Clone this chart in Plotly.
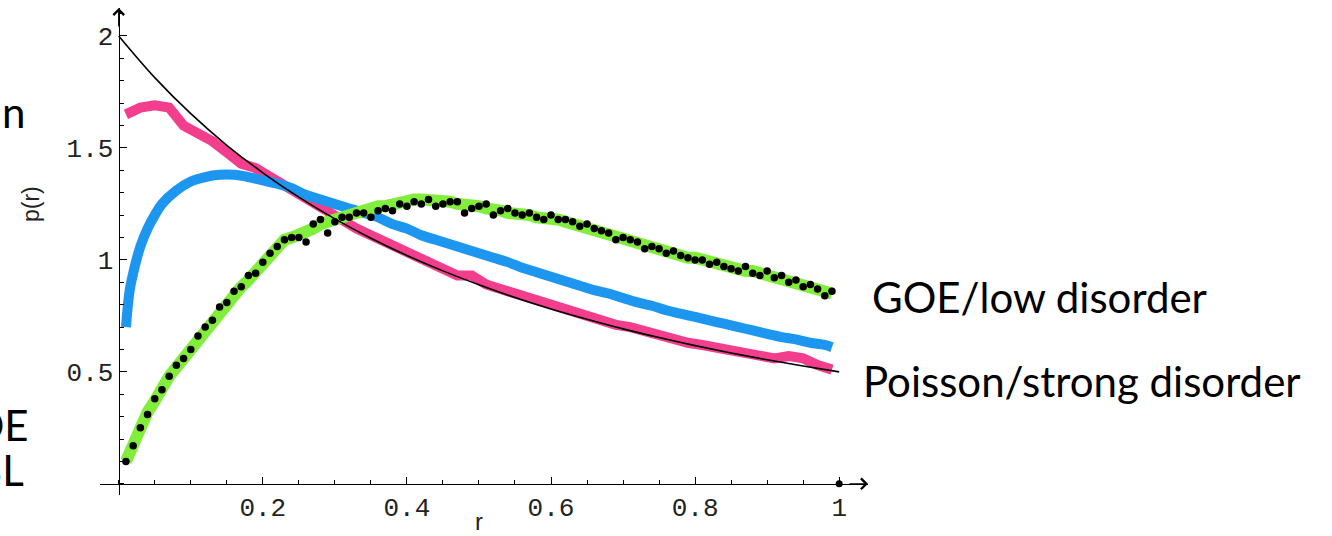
import plotly.graph_objects as go

# data
poisson_r = [0.00, 0.05, 0.10, 0.15, 0.20, 0.25, 0.30, 0.35, 0.40, 0.45, 0.50,
             0.55, 0.60, 0.65, 0.70, 0.75, 0.80, 0.85, 0.90, 0.95, 1.00]
poisson_p = [2.000, 1.814, 1.653, 1.512, 1.389, 1.280, 1.183, 1.097, 1.020, 0.951, 0.889,
             0.832, 0.781, 0.735, 0.692, 0.653, 0.617, 0.584, 0.554, 0.526, 0.500]

# strong disorder (pink), step 0.02 from 0.01
pink_p = [1.65, 1.68, 1.69, 1.68, 1.60, 1.57, 1.53, 1.48, 1.43, 1.41,
          1.37, 1.33, 1.29, 1.25, 1.21, 1.17, 1.14, 1.11, 1.08, 1.05,
          1.02, 0.99, 0.97, 0.93, 0.93, 0.89, 0.87, 0.85, 0.83, 0.80,
          0.79, 0.77, 0.74, 0.73, 0.71, 0.70, 0.68, 0.66, 0.65, 0.63,
          0.62, 0.61, 0.59, 0.58, 0.57, 0.56, 0.57, 0.56, 0.53, 0.51]
pink_r = [round(0.01 + 0.02 * i, 2) for i in range(len(pink_p))]

# intermediate disorder (blue)
blue_r = [0.01, 0.015, 0.02, 0.03, 0.04, 0.05, 0.06, 0.08, 0.10, 0.12, 0.14, 0.16, 0.18,
          0.20, 0.22, 0.24, 0.26, 0.28, 0.30, 0.32, 0.34, 0.36, 0.38, 0.40, 0.42, 0.44,
          0.46, 0.48, 0.50, 0.52, 0.54, 0.56, 0.58, 0.60, 0.62, 0.64, 0.66, 0.68, 0.70,
          0.72, 0.74, 0.76, 0.78, 0.80, 0.82, 0.84, 0.86, 0.88, 0.90, 0.92, 0.94, 0.96,
          0.98, 0.99]
blue_p = [0.70, 0.86, 0.94, 1.06, 1.14, 1.20, 1.25, 1.31, 1.35, 1.37, 1.38, 1.38, 1.37,
          1.355, 1.34, 1.32, 1.29, 1.27, 1.25, 1.23, 1.21, 1.19, 1.16, 1.14, 1.11, 1.09,
          1.07, 1.05, 1.03, 1.01, 0.99, 0.965, 0.945, 0.925, 0.905, 0.885, 0.865, 0.85, 0.83,
          0.81, 0.795, 0.775, 0.76, 0.745, 0.73, 0.715, 0.70, 0.685, 0.67, 0.655, 0.645, 0.63,
          0.62, 0.61]

# low disorder (green band), step 0.01 from 0.01
green_p = [0.10, 0.18, 0.25, 0.32, 0.37, 0.43, 0.48, 0.52, 0.56, 0.60,
           0.65, 0.70, 0.74, 0.78, 0.82, 0.85, 0.88, 0.91, 0.95, 0.99,
           1.03, 1.06, 1.09, 1.10, 1.11, 1.12, 1.14, 1.16, 1.17, 1.18,
           1.20, 1.21, 1.22, 1.23, 1.24, 1.24, 1.24, 1.25, 1.26, 1.27,
           1.27, 1.27, 1.27, 1.26, 1.26, 1.26, 1.25, 1.25, 1.24, 1.24,
           1.23, 1.23, 1.22, 1.21, 1.21, 1.20, 1.20, 1.19, 1.19, 1.18,
           1.18, 1.17, 1.16, 1.15, 1.14, 1.13, 1.12, 1.11, 1.10, 1.09,
           1.09, 1.08, 1.07, 1.06, 1.05, 1.04, 1.03, 1.02, 1.01, 1.01,
           1.00, 0.99, 0.98, 0.98, 0.97, 0.96, 0.95, 0.95, 0.94, 0.93,
           0.92, 0.91, 0.91, 0.90, 0.89, 0.88, 0.87, 0.86, 0.85]
green_r = [round(0.01 * (i + 1), 2) for i in range(len(green_p))]

# GOE dots, step 0.01 from 0.01
dots_p = [0.10, 0.17, 0.25, 0.31, 0.38, 0.42, 0.48, 0.53, 0.56, 0.60,
          0.66, 0.70, 0.73, 0.79, 0.81, 0.86, 0.88, 0.93, 0.94, 0.99,
          1.03, 1.06, 1.09, 1.10, 1.10, 1.08, 1.16, 1.18, 1.12, 1.17,
          1.19, 1.19, 1.21, 1.21, 1.19, 1.22, 1.23, 1.22, 1.25, 1.24,
          1.26, 1.25, 1.27, 1.24, 1.25, 1.26, 1.26, 1.21, 1.23, 1.24,
          1.25, 1.20, 1.22, 1.23, 1.21, 1.20, 1.21, 1.19, 1.18, 1.20,
          1.18, 1.18, 1.17, 1.15, 1.16, 1.14, 1.13, 1.12, 1.09, 1.10,
          1.09, 1.08, 1.05, 1.06, 1.05, 1.03, 1.04, 1.02, 1.01, 1.00,
          1.00, 0.98, 0.99, 0.97, 0.96, 0.95, 0.97, 0.94, 0.93, 0.95,
          0.92, 0.93, 0.90, 0.91, 0.88, 0.89, 0.87, 0.84, 0.86]
dots_r = [round(0.01 * (i + 1), 2) for i in range(len(dots_p))]

end_r = [1.0]
end_p = [0.0]

x_ticks = [0.2, 0.4, 0.6, 0.8, 1.0]
x_labels = ["0.2", "0.4", "0.6", "0.8", "1"]
y_ticks = [0.5, 1.0, 1.5, 2.0]
y_labels = ["0.5", "1", "1.5", "2"]

# plot box in pixels
W, H = 1332, 536
L, R, T, B = 100, 868, 8, 495
x_min, x_max = -0.026, 1.04
y_min, y_max = -0.05, 2.125


def fx(px):
    return (px - L) / (R - L)


def fy(py):
    return (B - py) / (B - T)


fig = go.Figure()
fig.add_trace(go.Scatter(x=pink_r, y=pink_p, mode="lines",
                         line=dict(color="#F23E8C", width=10)))
fig.add_trace(go.Scatter(x=blue_r, y=blue_p, mode="lines", line_shape="spline",
                         line=dict(color="#1D96F0", width=10)))
fig.add_trace(go.Scatter(x=green_r, y=green_p, mode="lines",
                         line=dict(color="#82EE3C", width=12)))
fig.add_trace(go.Scatter(x=dots_r, y=dots_p, mode="markers",
                         marker=dict(color="black", size=7.5)))
fig.add_trace(go.Scatter(x=poisson_r, y=poisson_p, mode="lines", line_shape="spline",
                         line=dict(color="black", width=1.6)))
fig.add_trace(go.Scatter(x=end_r, y=end_p, mode="markers",
                         marker=dict(color="black", size=7)))

tick_font = dict(family="Liberation Mono", size=26, color="#222")
fig.update_xaxes(range=[x_min, x_max], anchor="free", position=(0 - y_min) / (y_max - y_min),
                 automargin=False,
                 showline=True, linecolor="black", linewidth=1.3,
                 showgrid=False, zeroline=False,
                 tickvals=x_ticks, ticktext=x_labels, ticks="inside", ticklen=7,
                 tickcolor="black", tickwidth=1, tickfont=tick_font,
                 minor=dict(ticks="inside", ticklen=4, dtick=0.05, tick0=0,
                            tickcolor="black", tickwidth=1, showgrid=False))
fig.update_yaxes(range=[y_min, y_max], anchor="free", position=(0 - x_min) / (x_max - x_min),
                 automargin=False,
                 showline=True, linecolor="black", linewidth=1.3,
                 showgrid=False, zeroline=False,
                 tickvals=y_ticks, ticktext=y_labels, ticks="inside", ticklen=7,
                 tickcolor="black", tickwidth=1, tickfont=tick_font, ticklabelstandoff=0,
                 minor=dict(ticks="inside", ticklen=4, dtick=0.1, tick0=0,
                            tickcolor="black", tickwidth=1, showgrid=False))

# axis arrows
fig.add_annotation(x=x_max, y=0, xref="x", yref="y", ax=-20, ay=0, text="",
                   showarrow=True, arrowhead=4, arrowsize=1.6, arrowwidth=1.3, arrowcolor="black")
fig.add_annotation(x=0, y=y_max, xref="x", yref="y", ax=0, ay=20, text="",
                   showarrow=True, arrowhead=4, arrowsize=1.6, arrowwidth=1.3, arrowcolor="black")

# axis titles
fig.add_annotation(x=fx(31), y=fy(204), xref="paper", yref="paper", text="p(r)",
                   textangle=-90, showarrow=False, xanchor="center", yanchor="middle",
                   font=dict(family="Liberation Sans", size=23, color="#222"))
fig.add_annotation(x=fx(479), y=fy(536), xref="paper", yref="paper", text="r",
                   showarrow=False, xanchor="center", yanchor="bottom", borderpad=0,
                   font=dict(family="Liberation Sans", size=24, color="#222"))

big = dict(family="Lato", size=42, color="black")
fig.add_annotation(x=fx(870), y=fy(297), xref="paper", yref="paper", text="GOE/low disorder",
                   xanchor="left", yanchor="middle", showarrow=False, font=big)
fig.add_annotation(x=fx(861), y=fy(381), xref="paper", yref="paper",
                   text="Poisson/strong disorder",
                   xanchor="left", yanchor="middle", showarrow=False, font=big)

# partly cut-off labels on the left edge
fig.add_annotation(x=fx(27), y=fy(112), xref="paper", yref="paper", text="n",
                   xanchor="right", yanchor="middle", showarrow=False, font=big)
fig.add_annotation(x=fx(31), y=fy(425), xref="paper", yref="paper", text="GOE",
                   xanchor="right", yanchor="middle", showarrow=False, font=big)
fig.add_annotation(x=fx(26), y=fy(470), xref="paper", yref="paper", text="MBL",
                   xanchor="right", yanchor="middle", showarrow=False, font=big)

fig.update_layout(width=W, height=H, showlegend=False,
                  margin=dict(l=L, r=W - R, t=T, b=H - B),
                  paper_bgcolor="white", plot_bgcolor="white")

fig.write_html("out.html", config={"displayModeBar": False},
               post_script="document.body.style.margin='0';")
